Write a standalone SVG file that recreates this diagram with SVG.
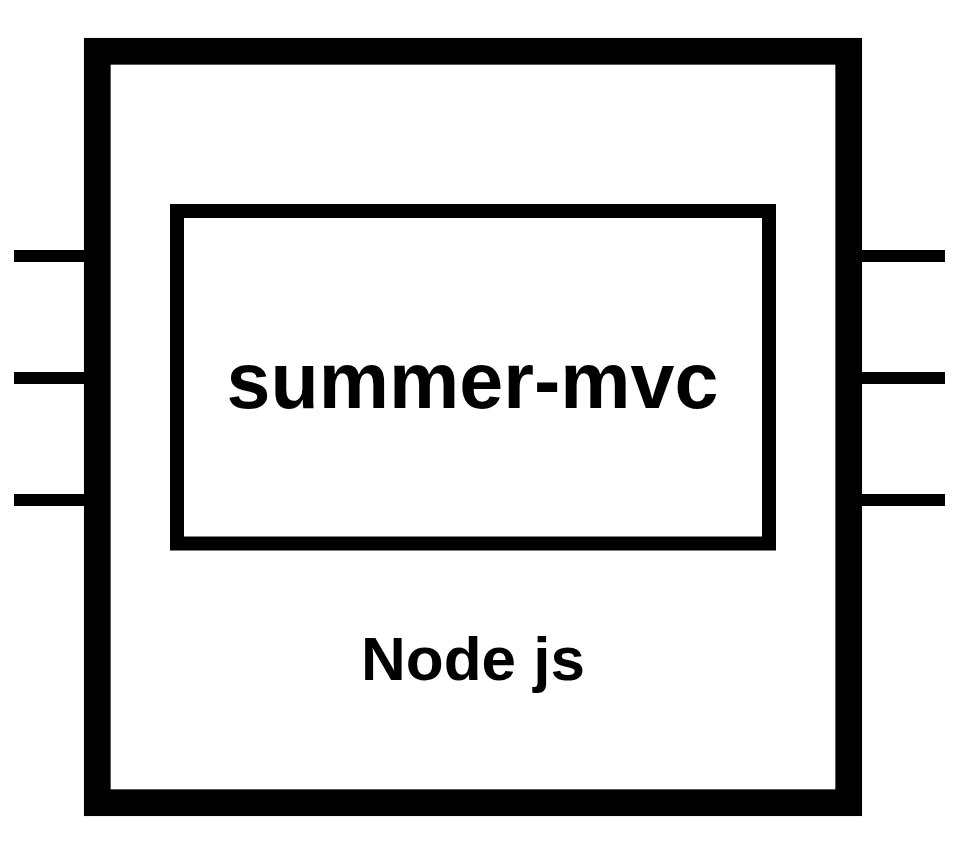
<svg xmlns="http://www.w3.org/2000/svg" width="964" height="848" viewBox="0 0 964 848">
<style>
.box{fill:#fff;stroke:#000}
.pin{stroke:#000;stroke-width:12;fill:none}
.lbl{font-family:"Liberation Sans",Arial,sans-serif;font-weight:bold;fill:#000;text-anchor:middle}
</style>
<rect width="964" height="848" fill="#fff"/>
<g id="connectors">
<line class="pin" x1="14" y1="256" x2="84" y2="256"/>
<line class="pin" x1="14" y1="378" x2="84" y2="378"/>
<line class="pin" x1="14" y1="500" x2="84" y2="500"/>
<line class="pin" x1="862" y1="256" x2="945" y2="256"/>
<line class="pin" x1="862" y1="378" x2="945" y2="378"/>
<line class="pin" x1="862" y1="500" x2="945" y2="500"/>
</g>
<g id="nodejs">
<rect class="box" x="97.3" y="51.3" width="751.4" height="751.4" stroke-width="26.7"/>
<text class="lbl" x="473" y="680" font-size="62">Node js</text>
</g>
<g id="summer-mvc">
<rect class="box" x="177" y="211" width="592" height="332.5" stroke-width="14"/>
<text class="lbl" x="472.5" y="408" font-size="79">summer-mvc</text>
</g>
</svg>
